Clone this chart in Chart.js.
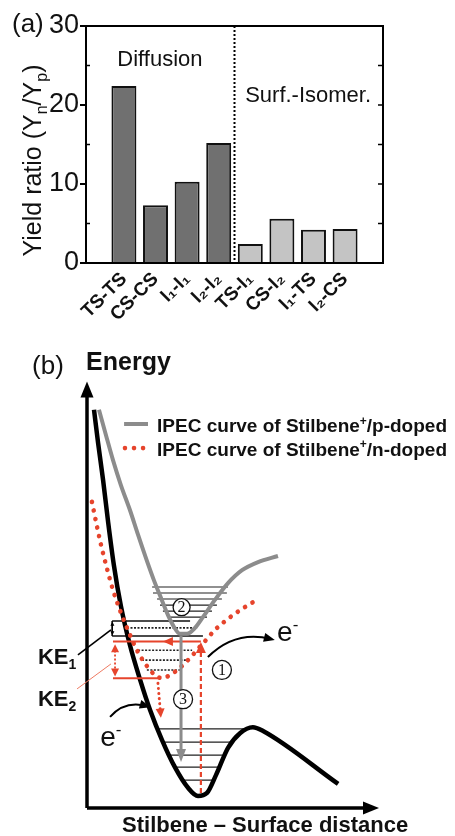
<!DOCTYPE html>
<html>
<head>
<meta charset="utf-8">
<script src="https://cdn.jsdelivr.net/npm/chart.js@4.4.1/dist/chart.umd.min.js"></script>
<style>
  html, body { margin: 0; padding: 0; background: #fff; }
  #wrap { position: relative; width: 455px; height: 836px; overflow: hidden; background: #fff; }
  canvas { position: absolute; left: 0; }
  #ratioChart { top: 0; }
  #energyChart { top: 340px; }
</style>
</head>
<body>
<div id="wrap">
  <canvas id="ratioChart" width="455" height="340"></canvas>
  <canvas id="energyChart" width="455" height="496"></canvas>
</div>
<script>
// ---------- (a) yield ratio Yn/Yp for each reaction pathway ----------
const pathways = ['TS-TS', 'CS-CS', 'I₁-I₁', 'I₂-I₂', 'TS-I₁', 'CS-I₂', 'I₁-TS', 'I₂-CS'];
const diffusionRatio = [22.4, 7.3, 10.3, 15.2];
const isomerizationRatio = [2.4, 5.6, 4.2, 4.3];
const ratioTicks = [0, 10, 20, 30];
const minorRatioTicks = [5, 15, 25];

// ---------- (b) potential energy curves: [distance, energy], arbitrary units ----------
const neutralCurve = [[2.4, 92.6], [3.8, 84.9], [5.5, 76.3], [7.2, 66.7], [9.2, 56.5], [11.6, 47.0],
  [14.7, 37.9], [18.2, 29.8], [21.6, 22.8], [25.7, 15.8], [30.1, 9.5], [34.6, 4.7], [38.0, 2.8],
  [41.1, 3.5], [44.2, 7.7], [48.3, 14.0], [52.4, 17.4], [56.8, 18.8], [60.3, 17.9], [86.0, 5.6]];
const pDopedCurve = [[4.1, 92.6], [6.5, 86.7], [8.9, 80.9], [11.6, 75.1], [14.7, 69.3], [17.5, 63.5],
  [20.4, 57.7], [22.9, 53.0], [25.6, 48.4], [27.7, 44.9], [29.8, 42.1], [31.8, 40.5], [34.2, 40.5],
  [37.0, 41.9], [39.7, 44.4], [43.8, 48.4], [48.3, 52.3], [53.1, 55.3], [58.6, 57.2], [65.4, 58.6]];
const nDopedCurve = [[1.7, 71.2], [3.1, 66.5], [4.8, 61.2], [6.8, 55.8], [8.9, 50.7], [11.3, 46.0],
  [14.0, 41.4], [17.1, 36.7], [20.2, 33.3], [23.3, 30.9], [25.7, 30.2], [28.4, 30.9], [31.8, 32.6],
  [35.3, 34.9], [38.0, 37.0], [40.8, 39.1], [43.8, 41.4], [48.3, 44.0], [53.1, 46.3], [58.2, 48.4]];

// vibrational levels: [energy, from, to]
const pDopedLevels = [[51.4, 22.3, 48.3], [50.0, 22.6, 47.9], [48.6, 24.0, 46.2], [47.2, 25.0, 44.5],
  [45.8, 26.0, 42.8], [44.4, 27.4, 41.1]];
const groundLevels = [[18.4, 24.6, 55.2], [15.3, 26.2, 50.3], [12.3, 28.3, 46.5], [9.5, 30.3, 45.3],
  [6.5, 32.9, 43.3]];
const hotLevels = [[41.9, 13.7, 37.7], [36.7, 17.5, 36.0], [34.4, 18.8, 34.2], [32.1, 20.5, 31.8]];
const ke1Box = [[43.5, 8.6, 35.3], [40.0, 8.6, 39.7]];
const ke2Bracket = [[38.7, 8.9, 39.0], [30.2, 8.9, 25.0]];

// transitions: [distance, energy] start -> end
const ionizationArrow = [[39.0, 3.5], [39.0, 38.6]];
const relaxationArrow = [[32.2, 40.0], [32.2, 10.7]];
const quenchArrow = [[24.3, 29.0], [25.3, 21.0]];
const ke1Arrow = [[8.7, 43.3], [8.7, 40.2]];
const ke2Arrow = [[9.6, 38.1], [9.6, 30.6]];
const electronPaths = [[[41.4, 35.1], [50.7, 41.4], [63.0, 39.3]], [[7.9, 21.2], [13.0, 25.1], [20.5, 23.7]]];

const FONT = "'Liberation Sans', Arial, Helvetica, sans-serif";
const RED = '#e6442c';
const GRAY = '#8c8c8c';

// text with sub/superscript pieces: parts = [[text, mode]], mode '' | 'sub' | 'sup'
function richText(ctx, parts, x, y, size, weight, align) {
  const fontFor = (m) => `${weight} ${m ? Math.round(size * 0.62) : size}px ${FONT}`;
  let total = 0;
  parts.forEach(([t, m]) => { ctx.font = fontFor(m); total += ctx.measureText(t).width; });
  let cx = align === 'center' ? x - total / 2 : x;
  ctx.textAlign = 'left';
  ctx.textBaseline = 'alphabetic';
  parts.forEach(([t, m]) => {
    ctx.font = fontFor(m);
    const dy = m === 'sub' ? size * 0.22 : (m === 'sup' ? -size * 0.4 : 0);
    ctx.fillText(t, cx, y + dy);
    cx += ctx.measureText(t).width;
  });
}

function arrowHead(ctx, x, y, ang, len, wid, color) {
  ctx.save();
  ctx.translate(x, y);
  ctx.rotate(ang);
  ctx.beginPath();
  ctx.moveTo(0, 0);
  ctx.lineTo(-len, -wid / 2);
  ctx.lineTo(-len, wid / 2);
  ctx.closePath();
  ctx.fillStyle = color;
  ctx.fill();
  ctx.restore();
}

// ---------- panel (a) ----------
const panelA = {
  id: 'panelA',
  afterDraw(chart) {
    const { ctx, chartArea: a, scales: { x, y } } = chart;
    ctx.save();
    ctx.strokeStyle = '#000';
    ctx.lineWidth = 2;
    ctx.beginPath();
    ctx.moveTo(a.left - 1, a.top);
    ctx.lineTo(a.right, a.top);
    ctx.lineTo(a.right, a.bottom + 1);
    ctx.stroke();

    // inward ticks on the left (minor) and right (all)
    ctx.lineWidth = 1.5;
    minorRatioTicks.forEach(v => {
      const py = y.getPixelForValue(v);
      ctx.beginPath(); ctx.moveTo(a.left, py); ctx.lineTo(a.left + 4, py); ctx.stroke();
    });
    [...minorRatioTicks, 10, 20].forEach(v => {
      const py = y.getPixelForValue(v);
      ctx.beginPath(); ctx.moveTo(a.right, py); ctx.lineTo(a.right - 5, py); ctx.stroke();
    });

    // divider between the two groups
    const dx = x.getPixelForValue(4.5);
    ctx.lineWidth = 2;
    ctx.setLineDash([2, 2]);
    ctx.beginPath(); ctx.moveTo(dx, a.top); ctx.lineTo(dx, a.bottom); ctx.stroke();
    ctx.setLineDash([]);

    ctx.fillStyle = '#111';
    ctx.textBaseline = 'alphabetic';
    ctx.textAlign = 'center';
    ctx.font = `22px ${FONT}`;
    ctx.fillText('Diffusion', x.getPixelForValue(2.14), y.getPixelForValue(24.9));
    ctx.fillText('Surf.-Isomer.', x.getPixelForValue(6.83), y.getPixelForValue(20.4));

    // panel tag
    ctx.textAlign = 'left';
    ctx.font = `26px ${FONT}`;
    ctx.fillText('(a)', 12, 32);

    // axis title
    ctx.save();
    ctx.translate(41, (a.top + a.bottom) / 2 + 16);
    ctx.rotate(-Math.PI / 2);
    richText(ctx, [['Yield ratio (Y', ''], ['n', 'sub'], ['/Y', ''], ['p', 'sub'], [')', '']], 0, 0, 25, 'normal', 'center');
    ctx.restore();
    ctx.restore();
  }
};

const barStyle = { borderColor: '#111', borderWidth: 2, grouped: false, barPercentage: 0.79, categoryPercentage: 1 };

new Chart(document.getElementById('ratioChart'), {
  type: 'bar',
  data: {
    datasets: [
      { label: 'Diffusion', data: diffusionRatio.map((v, i) => ({ x: i + 1, y: v })), backgroundColor: '#707070', ...barStyle },
      { label: 'Surf.-Isomer.', data: isomerizationRatio.map((v, i) => ({ x: i + 5, y: v })), backgroundColor: '#c4c4c4', ...barStyle }
    ]
  },
  options: {
    responsive: false,
    animation: false,
    devicePixelRatio: 1,
    layout: { padding: { top: 26, right: 72, left: 0, bottom: 0 } },
    plugins: { legend: { display: false }, tooltip: { enabled: false } },
    scales: {
      x: {
        type: 'linear', min: -0.2, max: 9.2, offset: false,
        grid: { display: false, drawTicks: false, offset: false },
        border: { display: true, color: '#000', width: 2 },
        afterBuildTicks: (s) => { s.ticks = pathways.map((_, i) => ({ value: i + 1 })); },
        afterFit: (s) => { s.height = 77; },
        ticks: {
          autoSkip: false, minRotation: 45, maxRotation: 45, padding: 5, color: '#111',
          font: { family: FONT, size: 19, weight: 'bold' },
          callback: (v) => pathways[v - 1] ?? ''
        }
      },
      y: {
        min: 0, max: 30,
        afterBuildTicks: (s) => { s.ticks = ratioTicks.map(v => ({ value: v })); },
        afterFit: (s) => { s.width = 86; },
        grid: { display: true, drawOnChartArea: false, drawTicks: true, tickLength: 6, tickColor: '#000', tickWidth: 2, color: '#000', lineWidth: 2 },
        border: { display: true, color: '#000', width: 2 },
        ticks: { padding: 1, color: '#111', font: { family: FONT, size: 27 } }
      }
    }
  },
  plugins: [panelA]
});

// ---------- panel (b) ----------
const pts = (arr) => arr.map(([x, y]) => ({ x, y }));
const levelPts = (arr) => arr.flatMap(([e, a, b]) => [{ x: a, y: e }, { x: b, y: e }, { x: null, y: null }]);

const panelB = {
  id: 'panelB',
  afterDatasetsDraw(chart) {
    const { ctx, scales: { x, y } } = chart;
    const X = (v) => x.getPixelForValue(v);
    const Y = (v) => y.getPixelForValue(v);
    ctx.save();

    const line = (p, q, color, width, dash) => {
      ctx.strokeStyle = color; ctx.lineWidth = width; ctx.setLineDash(dash || []);
      ctx.beginPath(); ctx.moveTo(X(p[0]), Y(p[1])); ctx.lineTo(X(q[0]), Y(q[1])); ctx.stroke();
      ctx.setLineDash([]);
    };
    const arrow = (p, q, color, width, dash, len, wid, both) => {
      const ang = Math.atan2(Y(q[1]) - Y(p[1]), X(q[0]) - X(p[0]));
      ctx.strokeStyle = color; ctx.lineWidth = width; ctx.setLineDash(dash || []);
      ctx.beginPath();
      ctx.moveTo(X(p[0]) + (both ? Math.cos(ang) * len * 0.8 : 0), Y(p[1]) + (both ? Math.sin(ang) * len * 0.8 : 0));
      ctx.lineTo(X(q[0]) - Math.cos(ang) * len * 0.8, Y(q[1]) - Math.sin(ang) * len * 0.8);
      ctx.stroke();
      ctx.setLineDash([]);
      arrowHead(ctx, X(q[0]), Y(q[1]), ang, len, wid, color);
      if (both) arrowHead(ctx, X(p[0]), Y(p[1]), ang + Math.PI, len, wid, color);
    };

    // axes
    arrow([0, 0], [0, 99.2], '#000', 3.5, null, 16, 13);
    arrow([0, 0], [100, 0], '#000', 3.5, null, 16, 13);

    // KE1 box side and arrow
    line([ke1Box[0][1], ke1Box[0][0]], [ke1Box[1][1], ke1Box[1][0]], '#000', 1.5);
    arrow(ke1Arrow[0], ke1Arrow[1], '#000', 1.2, null, 4, 4, true);

    // KE2 bracket (red) and its double arrow
    ke2Bracket.forEach(([e, a, b]) => line([a, e], [b, e], RED, 2));
    arrowHead(ctx, X(26.0), Y(ke2Bracket[0][0]), Math.PI, 10, 9, RED);
    arrow(ke2Arrow[0], ke2Arrow[1], RED, 1.8, [2, 2], 8, 8, true);

    // transitions
    arrow(ionizationArrow[0], ionizationArrow[1], RED, 2.2, [5, 3], 11, 10);
    arrow(relaxationArrow[0], relaxationArrow[1], GRAY, 3, null, 13, 10);
    ctx.lineCap = 'round';
    arrow(quenchArrow[0], quenchArrow[1], RED, 3, [0.1, 5], 9, 9);
    ctx.lineCap = 'butt';

    // leader lines to KE labels
    line([-3.1, 35.6], [8.2, 41.4], '#000', 1.6);
    line([-3.4, 27.7], [8.2, 33.5], '#ee7a62', 1);

    // electron paths
    electronPaths.forEach(([p, c, q]) => {
      const ang = Math.atan2(Y(q[1]) - Y(c[1]), X(q[0]) - X(c[0]));
      ctx.strokeStyle = '#000'; ctx.lineWidth = 2;
      ctx.beginPath();
      ctx.moveTo(X(p[0]), Y(p[1]));
      ctx.quadraticCurveTo(X(c[0]), Y(c[1]), X(q[0]), Y(q[1]));
      ctx.stroke();
      arrowHead(ctx, X(q[0]) + 4 * Math.cos(ang), Y(q[1]) + 4 * Math.sin(ang), ang, 11, 9, '#000');
    });

    // step markers
    [['2', 32.4, 46.7, 8.5], ['1', 46.2, 32.1, 9.5], ['3', 32.9, 25.3, 9.5]].forEach(([t, cx, cy, r]) => {
      ctx.beginPath();
      ctx.arc(X(cx), Y(cy), r, 0, Math.PI * 2);
      ctx.fillStyle = '#fff'; ctx.fill();
      ctx.strokeStyle = '#111'; ctx.lineWidth = 1.3; ctx.stroke();
      ctx.fillStyle = '#111';
      ctx.font = `16px 'Liberation Serif', 'Times New Roman', serif`;
      ctx.textAlign = 'center'; ctx.textBaseline = 'middle';
      ctx.fillText(t, X(cx), Y(cy) + 1);
    });

    // labels
    ctx.fillStyle = '#111';
    richText(ctx, [['e', ''], ['-', 'sup']], X(65.1), Y(38.8), 28, 'normal');
    richText(ctx, [['e', ''], ['-', 'sup']], X(4.5), Y(14.4), 28, 'normal');
    richText(ctx, [['KE', ''], ['1', 'sub']], X(-16.8), Y(33.5), 22, 'bold');
    richText(ctx, [['KE', ''], ['2', 'sub']], X(-16.8), Y(23.7), 22, 'bold');

    ctx.font = `26px ${FONT}`;
    ctx.textAlign = 'left'; ctx.textBaseline = 'alphabetic';
    ctx.fillText('(b)', X(-18.8), Y(100.9));
    ctx.font = `bold 25px ${FONT}`;
    ctx.fillText('Energy', X(-0.3), Y(101.9));
    ctx.font = `bold 22px ${FONT}`;
    ctx.textAlign = 'center';
    ctx.fillText('Stilbene – Surface distance', X(61.0), Y(-5.6));

    // legend
    ctx.strokeStyle = GRAY; ctx.lineWidth = 4;
    ctx.beginPath(); ctx.moveTo(X(12.7), Y(89.3)); ctx.lineTo(X(20.9), Y(89.3)); ctx.stroke();
    ctx.fillStyle = RED;
    [13.0, 16.1, 19.2].forEach(d => { ctx.beginPath(); ctx.arc(X(d), Y(83.7), 2.3, 0, Math.PI * 2); ctx.fill(); });
    ctx.fillStyle = '#111';
    richText(ctx, [['IPEC curve of Stilbene', ''], ['+', 'sup'], ['/p-doped', '']], X(24.0), Y(87.4), 19, 'bold');
    richText(ctx, [['IPEC curve of Stilbene', ''], ['+', 'sup'], ['/n-doped', '']], X(24.0), Y(81.9), 19, 'bold');
    ctx.restore();
  }
};

const curve = { showLine: true, pointRadius: 0, cubicInterpolationMode: 'monotone', clip: false };
const levelLine = { showLine: true, pointRadius: 0, tension: 0, spanGaps: false, clip: false };

new Chart(document.getElementById('energyChart'), {
  type: 'scatter',
  data: {
    datasets: [
      { label: 'IPEC curve of Stilbene⁺/n-doped', data: pts(nDopedCurve), borderColor: RED, borderWidth: 4.6,
        borderDash: [0.1, 8.6], borderCapStyle: 'round', order: 1, ...curve },
      { label: 'Stilbene/surface', data: pts(neutralCurve), borderColor: '#000', borderWidth: 4.5, order: 2, ...curve },
      { label: 'IPEC curve of Stilbene⁺/p-doped', data: pts(pDopedCurve), borderColor: GRAY, borderWidth: 4, order: 3, ...curve },
      { label: 'p-doped levels', data: levelPts(pDopedLevels), borderColor: '#222', borderWidth: 1.2, order: 6, ...levelLine },
      { label: 'ground levels', data: levelPts(groundLevels), borderColor: '#222', borderWidth: 1.2, order: 6, ...levelLine },
      { label: 'hot levels', data: levelPts(hotLevels), borderColor: '#222', borderWidth: 1.6, borderDash: [2, 1.5], order: 6, ...levelLine },
      { label: 'KE1 window', data: levelPts(ke1Box), borderColor: '#111', borderWidth: 1.5, order: 5, ...levelLine }
    ]
  },
  options: {
    responsive: false,
    animation: false,
    devicePixelRatio: 1,
    layout: { padding: { left: 87, right: 76, top: 38, bottom: 28 } },
    plugins: { legend: { display: false }, tooltip: { enabled: false } },
    scales: {
      x: { type: 'linear', min: 0, max: 100, display: false },
      y: { type: 'linear', min: 0, max: 100, display: false }
    }
  },
  plugins: [panelB]
});
</script>
</body>
</html>
